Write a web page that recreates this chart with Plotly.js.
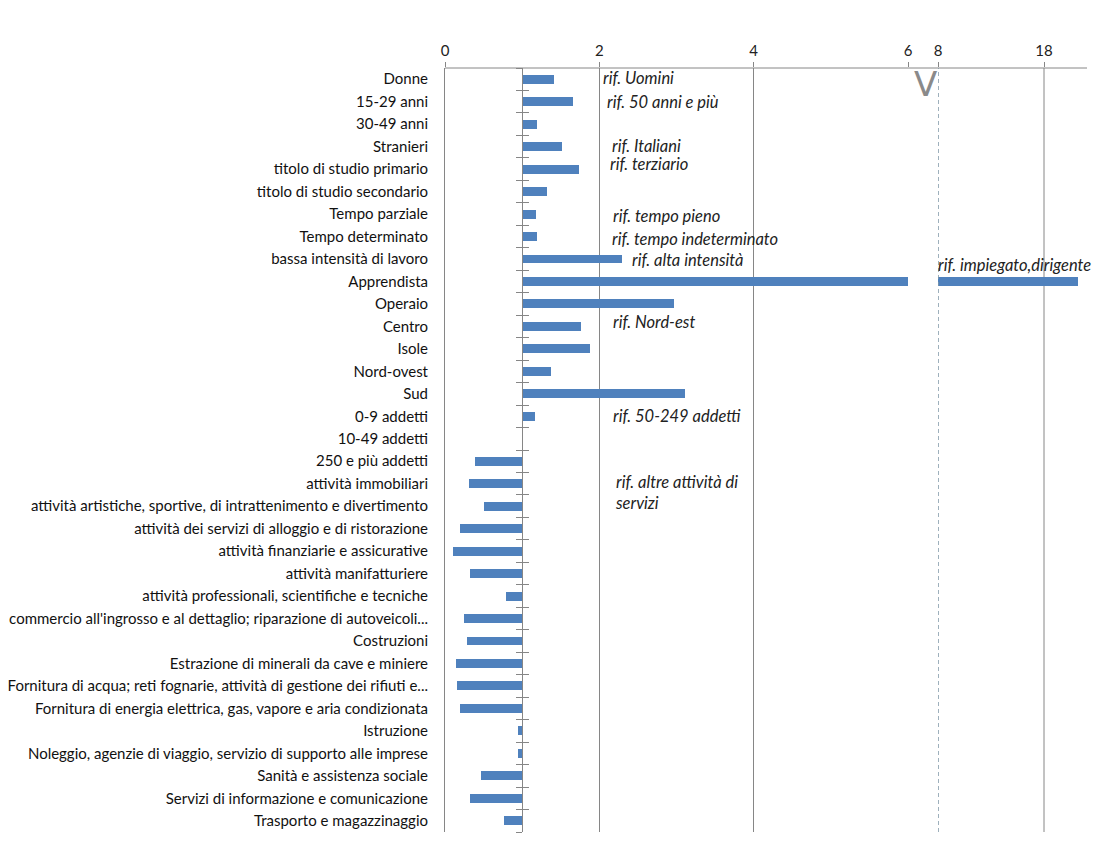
<!DOCTYPE html>
<html><head><meta charset="utf-8">
<script src="https://cdn.plot.ly/plotly-3.0.1.min.js"></script>
<style>html,body{margin:0;padding:0;background:#fff}#chart{width:1105px;height:854px}</style>
</head><body><div id="chart"></div>
<script>
const categories = [
 "Donne","15-29 anni","30-49 anni","Stranieri","titolo di studio primario","titolo di studio secondario",
 "Tempo parziale","Tempo determinato","bassa intensità di lavoro","Apprendista","Operaio","Centro","Isole",
 "Nord-ovest","Sud","0-9 addetti","10-49 addetti","250 e più addetti","attività immobiliari",
 "attività artistiche, sportive, di intrattenimento e divertimento","attività dei servizi di alloggio e di ristorazione",
 "attività finanziarie e assicurative","attività manifatturiere","attività professionali, scientifiche e tecniche",
 "commercio all'ingrosso e al dettaglio; riparazione di autoveicoli...","Costruzioni",
 "Estrazione di minerali da cave e miniere","Fornitura di acqua; reti fognarie, attività di gestione dei rifiuti e...",
 "Fornitura di energia elettrica, gas, vapore e aria condizionata","Istruzione",
 "Noleggio, agenzie di viaggio, servizio di supporto alle imprese","Sanità e assistenza sociale",
 "Servizi di informazione e comunicazione","Trasporto e magazzinaggio"
];
const oddsRatio = [1.41,1.66,1.19,1.52,1.74,1.32,1.18,1.19,2.29,21.2,2.97,1.76,1.88,1.37,3.11,1.165,1.01,0.39,0.31,
 0.50,0.20,0.11,0.32,0.79,0.24,0.28,0.14,0.16,0.19,0.94,0.94,0.46,0.33,0.77];
const reference = 1;
const leftTicks = [0,2,4,6];
const rightTicks = [8,18];
const refNotes = [
 ["rif. Uomini",601,78],["rif. 50 anni e più",605,102],["rif. Italiani",610,146],["rif. terziario",608,164],
 ["rif. tempo pieno",611,216],["rif. tempo indeterminato",610,239],["rif. alta intensità",630,260],
 ["rif. impiegato,dirigente",936,265],["rif. Nord-est",611,322],["rif. 50-249 addetti",611,416],
 ["rif. altre attività di<br>servizi",613,492]
];

const L=445, R=1087, T=68, B=832, W=R-L, H=B-T;
const px = x => (x-L)/W, py = y => (B-y)/H;
const FONT = "Lato, 'Open Sans', sans-serif";
const grey = "#868686";
const n = categories.length;
const lengths = oddsRatio.map(v => v - reference);
const bar = {type:'bar', orientation:'h', y:categories, x:lengths, base:reference, width:0.4,
  marker:{color:'#4f81bd'}, hoverinfo:'skip'};
const data = [
  Object.assign({}, bar, {xaxis:'x', yaxis:'y'}),
  Object.assign({}, bar, {xaxis:'x2', yaxis:'y'}),
  {type:'scatter', mode:'markers', x:[], y:[], xaxis:'x', yaxis:'y2', hoverinfo:'skip'},
  {type:'scatter', mode:'markers', x:[], y:[], xaxis:'x', yaxis:'y3', hoverinfo:'skip'}
];
const bounds = Array.from({length:n+1}, (_,i)=> i-0.5);
const axStyle = {tickfont:{family:FONT,size:15,color:'#222'}};
const layout = {
  width:1105, height:854, paper_bgcolor:'#fff', plot_bgcolor:'rgba(0,0,0,0)',
  margin:{l:L, r:1105-R, t:T, b:854-B},
  showlegend:false, bargap:0,
  xaxis:Object.assign({domain:[0,px(908)], range:[0,6], side:'top', tickvals:leftTicks, ticktext:leftTicks.map(String),
    showgrid:true, gridcolor:grey, gridwidth:1, zeroline:false, showline:false, ticks:'outside', ticklen:5, tickcolor:grey,
    anchor:'y'}, axStyle),
  xaxis2:Object.assign({domain:[px(938),1], range:[8, 8+(R-938)/10.6], side:'top', tickvals:rightTicks, ticktext:rightTicks.map(String),
    showgrid:false, zeroline:false, showline:false, ticks:'outside', ticklen:5, tickcolor:grey, anchor:'y'}, axStyle),
  yaxis:{type:'category', range:[n-0.5,-0.5], showline:true, linecolor:grey, ticks:'', showgrid:false, zeroline:false,
    ticklabelstandoff:13, tickfont:{family:FONT,size:15,color:'#111'}},
  yaxis2:{overlaying:'y', anchor:'free', position:px(522.3), range:[n-0.5,-0.5], tickvals:bounds, showticklabels:false,
    ticks:'outside', ticklen:6, tickcolor:grey, showline:true, linecolor:grey, showgrid:false, zeroline:false},
  yaxis3:{overlaying:'y', anchor:'free', position:px(522.3), range:[n-0.5,-0.5], tickvals:bounds, showticklabels:false,
    ticks:'inside', ticklen:6, tickcolor:grey, showline:false, showgrid:false, zeroline:false},
  shapes:[
    {type:'line', xref:'paper', yref:'paper', x0:0, x1:1, y0:1, y1:1, line:{color:grey,width:1}},
    {type:'line', xref:'x2', yref:'paper', x0:18, x1:18, y0:0, y1:1, line:{color:grey,width:1}, layer:'below'},
    {type:'line', xref:'x2', yref:'paper', x0:8, x1:8, y0:0, y1:1, line:{color:'#7f97a6',width:1.5,dash:'4px,3px'}}
  ],
  annotations: refNotes.map(([t,x,y]) => ({text:'<i>'+t+'</i>', xref:'paper', yref:'paper', x:px(x), y:py(y),
     xanchor:'left', yanchor:'middle', align:'left', showarrow:false, font:{family:FONT,size:16.5,color:'#222'}}))
   .concat([{text:'V', xref:'paper', yref:'paper', x:px(925), y:py(84), xanchor:'center', yanchor:'middle',
     showarrow:false, font:{family:"'DejaVu Sans', sans-serif",size:34,color:'#8a8a8a'}}])
};
Plotly.newPlot('chart', data, layout, {staticPlot:true});
</script></body></html>
